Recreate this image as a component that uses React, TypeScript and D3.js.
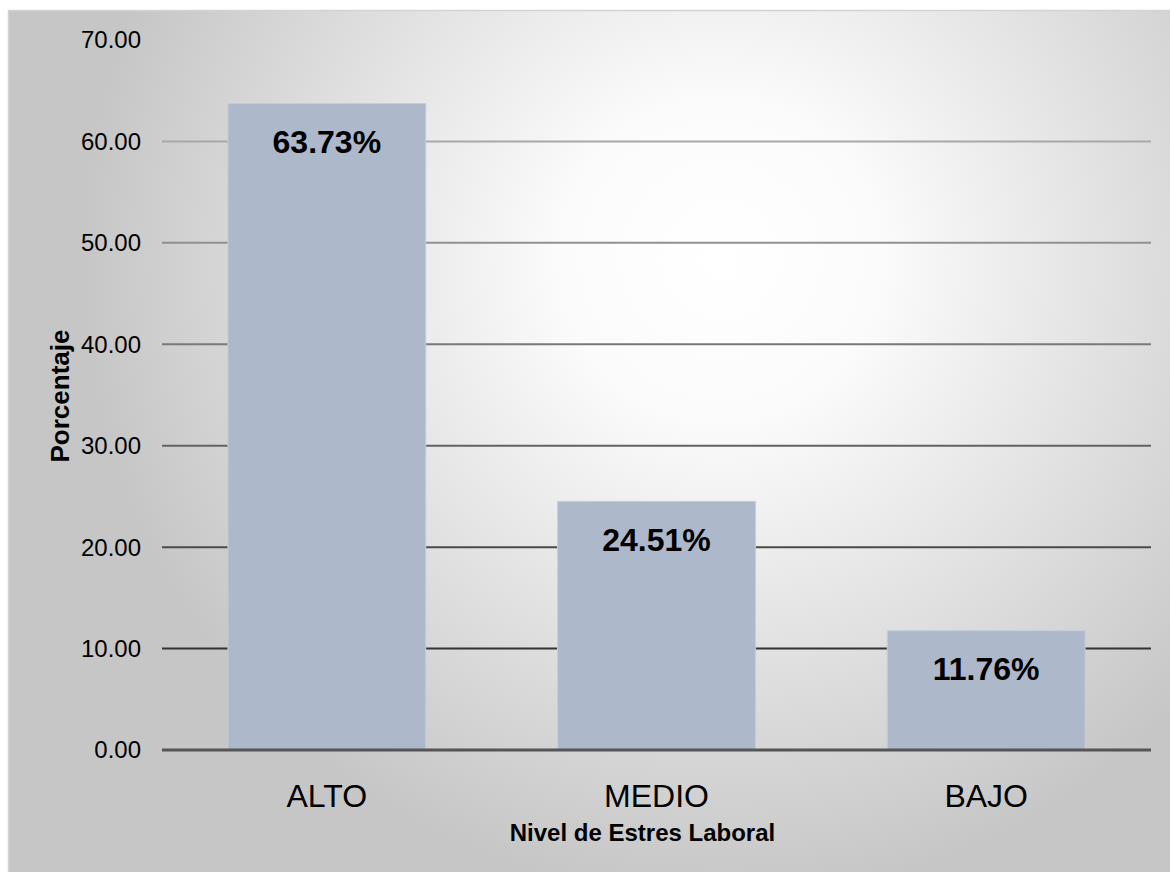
import React from "react";
import * as d3 from "d3";

const categories = ["ALTO", "MEDIO", "BAJO"];
const values = [63.73, 24.51, 11.76];
const valueLabels = ["63.73%", "24.51%", "11.76%"];
const yTicks = [0, 10, 20, 30, 40, 50, 60, 70];

const W = 1170;
const H = 872;
const left = 162;
const right = 1151;
const top = 40;
const bottom = 750;

export default function App() {
  const x = d3.scaleBand<string>().domain(categories).range([left, right]).paddingInner(0.4).paddingOuter(0.2);
  const y = d3.scaleLinear().domain([0, 70]).range([bottom, top]);
  const gridColor = d3.scaleLinear<string>().domain([60, 10]).range(["#a8a8a8", "#333333"]);
  const font = "'Liberation Sans', Arial, sans-serif";
  return (
    <svg width={W} height={H} style={{ position: "absolute", left: 0, top: 0 }} fontFamily={font}>
      <defs>
        <radialGradient id="bg" gradientUnits="userSpaceOnUse" cx={720} cy={260} r={640}>
          <stop offset="0" stopColor="#ffffff" />
          <stop offset="0.25" stopColor="#fbfbfb" />
          <stop offset="1" stopColor="#c6c6c6" />
        </radialGradient>
      </defs>
      <rect x={0} y={0} width={W} height={H} fill="#ffffff" />
      <rect x={8} y={10} width={W - 8} height={H - 10} fill="url(#bg)" />
      <rect x={8.5} y={10.5} width={W} height={H} fill="none" stroke="#d4d4d4" strokeWidth={1.5} />
      {yTicks.filter((t) => t > 0 && t < 70).map((t) => (
        <line key={t} x1={left} x2={right} y1={y(t)} y2={y(t)} stroke={gridColor(t)} strokeWidth={2} />
      ))}
      {categories.map((c, i) => (
        <rect key={c} x={x(c)} y={y(values[i])} width={x.bandwidth()} height={bottom - y(values[i])}
          fill="#adb8cb" stroke="#c4cddb" strokeWidth={1} />
      ))}
      <line x1={left} x2={right} y1={bottom} y2={bottom} stroke="#555555" strokeWidth={3} />
      {yTicks.map((t) => (
        <text key={t} x={141} y={y(t)} dy="0.35em" textAnchor="end" fontSize={24} fill="#000">
          {t.toFixed(2)}
        </text>
      ))}
      {categories.map((c, i) => (
        <text key={c} x={(x(c) as number) + x.bandwidth() / 2} y={y(values[i]) + 38} dy="0.35em"
          textAnchor="middle" fontSize={32} fontWeight="bold" fill="#000">
          {valueLabels[i]}
        </text>
      ))}
      {categories.map((c) => (
        <text key={c} x={(x(c) as number) + x.bandwidth() / 2} y={796} dy="0.35em"
          textAnchor="middle" fontSize={32} fill="#000">
          {c}
        </text>
      ))}
      <text x={(left + right) / 2 - 14} y={833} dy="0.35em" textAnchor="middle" fontSize={24} fontWeight="bold" fill="#000">
        Nivel de Estres Laboral
      </text>
      <text transform={`translate(${60},${396}) rotate(-90)`} dy="0.35em" textAnchor="middle" fontSize={26} fontWeight="bold" fill="#000">
        Porcentaje
      </text>
    </svg>
  );
}
